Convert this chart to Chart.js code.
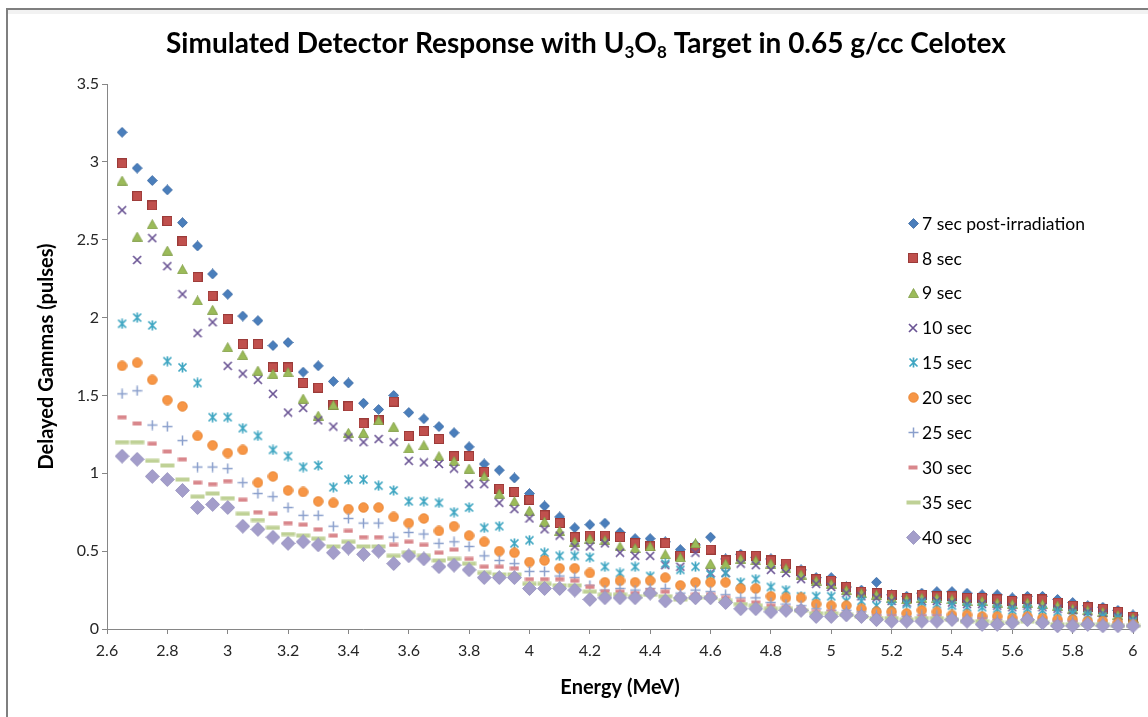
<!DOCTYPE html>
<html><head><meta charset="utf-8">
<script src="https://cdn.jsdelivr.net/npm/chart.js@4.4.0/dist/chart.umd.min.js"></script>
<style>html,body{margin:0;padding:0;background:#fff;}canvas{display:block;}</style>
</head><body>
<canvas id="c" width="1148" height="717"></canvas>
<script>
const energies = [2.65,2.7,2.75,2.8,2.85,2.9,2.95,3,3.05,3.1,3.15,3.2,3.25,3.3,3.35,3.4,3.45,3.5,3.55,3.6,3.65,3.7,3.75,3.8,3.85,3.9,3.95,4,4.05,4.1,4.15,4.2,4.25,4.3,4.35,4.4,4.45,4.5,4.55,4.6,4.65,4.7,4.75,4.8,4.85,4.9,4.95,5,5.05,5.1,5.15,5.2,5.25,5.3,5.35,5.4,5.45,5.5,5.55,5.6,5.65,5.7,5.75,5.8,5.85,5.9,5.95,6];

const sec7 = [3.19,2.96,2.88,2.82,2.61,2.46,2.28,2.15,2.01,1.98,
1.82,1.84,1.65,1.69,1.59,1.58,1.45,1.41,1.50,1.39,
1.35,1.30,1.26,1.17,1.06,1.02,0.97,0.87,0.79,0.72,
0.65,0.67,0.68,0.62,0.58,0.58,0.56,0.51,0.54,0.59,
0.45,0.48,0.46,0.45,0.41,0.38,0.33,0.33,0.27,0.25,
0.30,0.22,0.21,0.23,0.24,0.24,0.23,0.22,0.22,0.20,
0.21,0.21,0.19,0.17,0.15,0.14,0.12,0.09];
const sec8 = [2.99,2.78,2.72,2.62,2.49,2.26,2.14,1.99,1.83,1.83,
1.68,1.68,1.58,1.55,1.44,1.43,1.32,1.34,1.46,1.24,
1.27,1.22,1.11,1.11,1.01,0.90,0.88,0.83,0.73,0.68,
0.59,0.60,0.60,0.59,0.55,0.53,0.55,0.47,0.52,0.51,
0.44,0.47,0.47,0.44,0.42,0.37,0.32,0.31,0.27,0.24,
0.23,0.22,0.20,0.22,0.21,0.21,0.20,0.20,0.19,0.18,
0.19,0.19,0.17,0.15,0.14,0.13,0.11,0.08];
const sec9 = [2.88,2.52,2.60,2.43,2.31,2.11,2.05,1.81,1.76,1.66,
1.64,1.65,1.48,1.37,1.44,1.26,1.26,1.34,1.30,1.16,
1.18,1.11,1.08,1.03,0.98,0.87,0.82,0.76,0.69,0.63,
0.56,0.58,0.57,0.53,0.52,0.53,0.48,0.46,0.55,0.42,
0.42,0.45,0.44,0.42,0.39,0.35,0.31,0.29,0.25,0.23,
0.22,0.20,0.19,0.20,0.20,0.19,0.18,0.18,0.17,0.16,
0.17,0.16,0.15,0.13,0.12,0.11,0.09,0.07];
const sec10 = [2.69,2.37,2.51,2.33,2.15,1.90,1.97,1.69,1.64,1.60,
1.51,1.39,1.42,1.34,1.30,1.23,1.20,1.22,1.20,1.08,
1.07,1.06,1.03,0.93,0.93,0.81,0.77,0.71,0.64,0.60,
0.53,0.53,0.55,0.49,0.47,0.47,0.41,0.40,0.49,0.36,
0.36,0.42,0.41,0.38,0.36,0.32,0.29,0.27,0.23,0.21,
0.20,0.18,0.17,0.18,0.18,0.17,0.16,0.16,0.15,0.14,
0.15,0.14,0.13,0.12,0.11,0.10,0.08,0.06];
const sec15 = [1.96,2.00,1.95,1.72,1.68,1.58,1.36,1.36,1.29,1.24,
1.15,1.11,1.04,1.05,0.91,0.96,0.96,0.92,0.89,0.82,
0.82,0.81,0.75,0.78,0.65,0.66,0.55,0.57,0.49,0.47,
0.47,0.46,0.40,0.36,0.40,0.34,0.42,0.38,0.40,0.35,
0.36,0.30,0.32,0.27,0.25,0.21,0.21,0.21,0.18,0.18,
0.15,0.15,0.16,0.17,0.16,0.15,0.14,0.14,0.13,0.12,
0.13,0.12,0.11,0.10,0.09,0.08,0.07,0.05];
const sec20 = [1.69,1.71,1.60,1.47,1.43,1.24,1.18,1.13,1.15,0.94,
0.98,0.89,0.88,0.82,0.81,0.77,0.78,0.78,0.72,0.68,
0.71,0.63,0.66,0.60,0.56,0.50,0.49,0.43,0.44,0.39,
0.39,0.36,0.30,0.31,0.30,0.31,0.33,0.28,0.30,0.30,
0.30,0.26,0.26,0.21,0.20,0.20,0.16,0.15,0.15,0.13,
0.11,0.11,0.10,0.12,0.11,0.09,0.09,0.08,0.08,0.07,
0.08,0.07,0.06,0.06,0.05,0.05,0.04,0.03];
const sec25 = [1.51,1.53,1.31,1.30,1.21,1.04,1.04,1.03,0.94,0.87,
0.85,0.78,0.73,0.73,0.66,0.71,0.68,0.68,0.59,0.62,
0.61,0.55,0.56,0.53,0.47,0.44,0.42,0.37,0.37,0.34,
0.33,0.28,0.25,0.26,0.25,0.26,0.26,0.23,0.25,0.24,
0.22,0.20,0.20,0.17,0.16,0.15,0.13,0.12,0.12,0.11,
0.09,0.09,0.08,0.09,0.09,0.08,0.07,0.07,0.06,0.06,
0.07,0.06,0.05,0.05,0.04,0.04,0.03,0.03];
const sec30 = [1.36,1.32,1.19,1.14,1.09,0.94,0.93,0.95,0.83,0.75,
0.74,0.68,0.67,0.64,0.60,0.63,0.59,0.59,0.54,0.56,
0.54,0.49,0.51,0.45,0.40,0.40,0.39,0.32,0.32,0.32,
0.31,0.27,0.24,0.24,0.23,0.25,0.24,0.21,0.22,0.22,
0.20,0.18,0.17,0.15,0.14,0.13,0.11,0.11,0.10,0.09,
0.08,0.08,0.07,0.08,0.08,0.07,0.06,0.06,0.05,0.05,
0.06,0.05,0.04,0.04,0.04,0.03,0.03,0.02];
const sec35 = [1.20,1.20,1.08,1.05,0.96,0.85,0.87,0.84,0.74,0.70,
0.65,0.61,0.60,0.58,0.53,0.56,0.53,0.53,0.47,0.49,
0.47,0.44,0.45,0.42,0.36,0.35,0.35,0.29,0.29,0.28,
0.28,0.24,0.22,0.22,0.21,0.22,0.21,0.19,0.20,0.20,
0.18,0.16,0.15,0.13,0.13,0.12,0.10,0.10,0.09,0.08,
0.07,0.07,0.06,0.07,0.07,0.06,0.05,0.05,0.04,0.04,
0.05,0.04,0.03,0.03,0.03,0.03,0.02,0.02];
const sec40 = [1.11,1.09,0.98,0.96,0.89,0.78,0.80,0.78,0.66,0.64,
0.59,0.55,0.56,0.54,0.49,0.52,0.48,0.50,0.42,0.47,
0.45,0.40,0.41,0.38,0.33,0.33,0.33,0.26,0.26,0.26,
0.25,0.19,0.20,0.20,0.20,0.23,0.18,0.20,0.20,0.20,
0.17,0.13,0.13,0.11,0.12,0.12,0.08,0.08,0.09,0.08,
0.06,0.05,0.05,0.05,0.05,0.06,0.05,0.03,0.03,0.04,
0.06,0.04,0.02,0.02,0.03,0.02,0.02,0.02];

const seriesNames = ['7 sec post-irradiation','8 sec','9 sec','10 sec','15 sec','20 sec','25 sec','30 sec','35 sec','40 sec'];
const seriesValues = [sec7,sec8,sec9,sec10,sec15,sec20,sec25,sec30,sec35,sec40];
const yTicksMin = 0, yTicksMax = 3.5, yStep = 0.5;
const xTicksMin = 2.6, xTicksMax = 6, xStep = 0.2;
const titleParts = [['Simulated Detector Response with U',0],['3',1],['O',0],['8',1],[' Target in 0.65 g/cc Celotex',0]];
const xTitle = 'Energy (MeV)';
const yTitle = 'Delayed Gammas (pulses)';

const FONT = 'Lato, "Open Sans", sans-serif';

function mk(w, h, draw) {
  const c = document.createElement('canvas');
  c.width = w; c.height = h;
  const g = c.getContext('2d');
  draw(g, w, h);
  return c;
}
function diamond(size, fill, stroke) {
  return mk(size, size, (g, w, h) => {
    g.beginPath();
    g.moveTo(w/2, 0.5); g.lineTo(w-0.5, h/2); g.lineTo(w/2, h-0.5); g.lineTo(0.5, h/2); g.closePath();
    g.fillStyle = fill; g.fill(); g.strokeStyle = stroke; g.lineWidth = 0.8; g.stroke();
  });
}
const markers = [
  diamond(11, '#4A7EBB', '#3C69A3'),
  mk(10, 10, (g) => { g.fillStyle = '#C0504D'; g.fillRect(0.5,0.5,9,9); g.strokeStyle = '#9B3B39'; g.lineWidth = 1; g.strokeRect(0.5,0.5,9,9); }),
  mk(11, 10, (g) => { g.beginPath(); g.moveTo(5.5,0.5); g.lineTo(10.5,9.5); g.lineTo(0.5,9.5); g.closePath(); g.fillStyle = '#9BBB59'; g.fill(); g.strokeStyle = '#7F9C45'; g.lineWidth = 0.8; g.stroke(); }),
  mk(10, 10, (g) => { g.strokeStyle = '#6A5494'; g.lineWidth = 1.7; g.beginPath(); g.moveTo(1,1); g.lineTo(9,9); g.moveTo(9,1); g.lineTo(1,9); g.stroke(); }),
  mk(11, 11, (g) => { g.strokeStyle = '#3FA6C2'; g.lineWidth = 1.7; g.beginPath(); g.moveTo(1.5,1.5); g.lineTo(9.5,9.5); g.moveTo(9.5,1.5); g.lineTo(1.5,9.5); g.moveTo(5.5,0.5); g.lineTo(5.5,10.5); g.stroke(); }),
  mk(11, 11, (g) => { g.beginPath(); g.arc(5.5,5.5,4.8,0,Math.PI*2); g.fillStyle = '#F79646'; g.fill(); g.strokeStyle = '#E4822F'; g.lineWidth = 0.8; g.stroke(); }),
  mk(11, 11, (g) => { g.strokeStyle = '#8A9FCC'; g.lineWidth = 1.5; g.beginPath(); g.moveTo(5.5,0.5); g.lineTo(5.5,10.5); g.moveTo(0.5,5.5); g.lineTo(10.5,5.5); g.stroke(); }),
  mk(10, 5, (g) => { g.fillStyle = '#D9878C'; g.fillRect(0.5,0.5,9,4); }),
  mk(15, 5, (g) => { g.fillStyle = '#BFD196'; g.fillRect(0.5,0.5,14,4); }),
  diamond(15, '#A39DCA', '#9590BE')
];

const datasets = seriesValues.map((vals, i) => ({
  label: seriesNames[i],
  data: energies.map((e, k) => ({x: e, y: vals[k]})),
  pointStyle: markers[i],
  pointRadius: 5,
  pointHoverRadius: 5,
  showLine: false,
  order: 10 - i,
  clip: false
}));

const frame = {
  id: 'frame',
  beforeDraw(chart) {
    const ctx = chart.ctx;
    ctx.save();
    ctx.fillStyle = '#fff';
    ctx.fillRect(0, 0, chart.width, chart.height);
    ctx.fillStyle = '#f2f2f2';
    ctx.fillRect(8, 10, chart.width, 4);
    ctx.fillStyle = '#7f7f7f';
    ctx.fillRect(6, 8, chart.width, 2);
    ctx.fillRect(6, 8, 2, chart.height);
    ctx.restore();
  }
};

const titlePlugin = {
  id: 'richTitle',
  afterDraw(chart) {
    const ctx = chart.ctx;
    ctx.save();
    const big = 'bold 28px ' + FONT, small = 'bold 17px ' + FONT;
    let total = 0;
    titleParts.forEach(([t, sub]) => { ctx.font = sub ? small : big; total += ctx.measureText(t).width; });
    let x = 586 - total / 2;
    ctx.fillStyle = '#000';
    ctx.textBaseline = 'alphabetic';
    titleParts.forEach(([t, sub]) => {
      ctx.font = sub ? small : big;
      ctx.fillText(t, x, sub ? 58 : 53);
      x += ctx.measureText(t).width;
    });
    ctx.restore();
  }
};

const legendPlugin = {
  id: 'sideLegend',
  afterDraw(chart) {
    const ctx = chart.ctx;
    ctx.save();
    ctx.font = '17.5px ' + FONT;
    ctx.fillStyle = '#000';
    ctx.textBaseline = 'middle';
    seriesNames.forEach((name, i) => {
      const y = 223 + i * 34.9;
      const m = markers[i];
      ctx.drawImage(m, Math.round(913 - m.width / 2), Math.round(y - m.height / 2));
      ctx.fillText(name, 922, y + 1);
    });
    ctx.restore();
  }
};

new Chart(document.getElementById('c'), {
  type: 'scatter',
  data: { datasets },
  plugins: [frame, titlePlugin, legendPlugin],
  options: {
    responsive: false,
    animation: false,
    devicePixelRatio: 1,
    layout: { padding: { top: 84, right: 15, left: 0, bottom: 0 } },
    plugins: { legend: { display: false }, title: { display: false }, tooltip: { enabled: false } },
    scales: {
      x: {
        type: 'linear', min: xTicksMin, max: xTicksMax,
        afterFit(scale) { scale.height = 88; },
        ticks: { stepSize: xStep, padding: 7, color: '#262626', font: { family: FONT, size: 16 },
          callback: v => String(parseFloat(v.toFixed(1))) },
        grid: { display: true, drawOnChartArea: false, drawTicks: true, tickLength: 5, color: '#868686' },
        border: { display: true, color: '#868686', width: 1 },
        title: { display: true, text: xTitle, color: '#000', font: { family: FONT, size: 20, weight: 'bold' }, padding: { top: 17, bottom: 17 } }
      },
      y: {
        type: 'linear', min: yTicksMin, max: yTicksMax,
        afterFit(scale) { scale.width = 107; },
        ticks: { stepSize: yStep, padding: 3, color: '#262626', font: { family: FONT, size: 16 },
          callback: v => String(parseFloat(v.toFixed(1))) },
        grid: { display: true, drawOnChartArea: false, drawTicks: true, tickLength: 5, color: '#868686' },
        border: { display: true, color: '#868686', width: 1 },
        title: { display: true, text: yTitle, color: '#000', font: { family: FONT, size: 20, weight: 'bold' }, padding: { top: 35, bottom: 0 } }
      }
    }
  }
});
</script>
</body></html>
